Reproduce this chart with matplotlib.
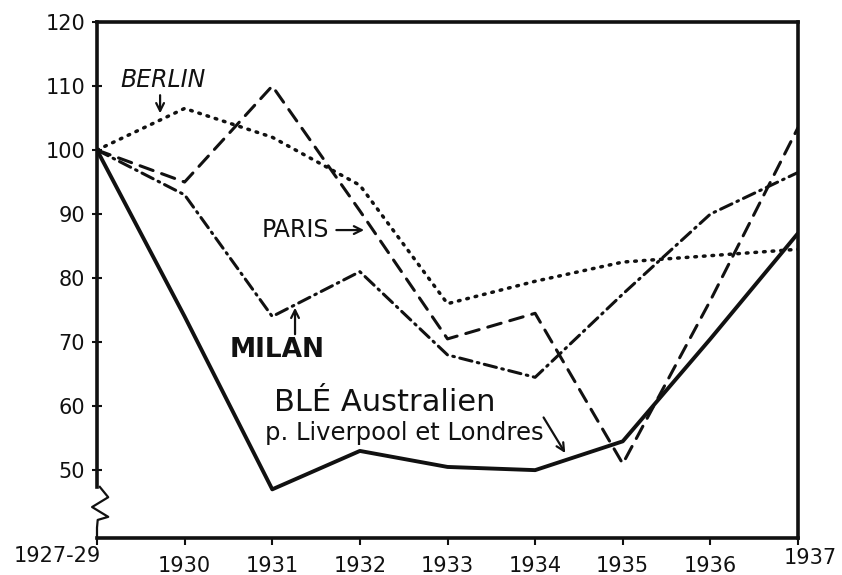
import matplotlib
matplotlib.use("Agg")
import matplotlib.pyplot as plt
from matplotlib.lines import Line2D
from matplotlib.transforms import ScaledTranslation

plt.rcParams['lines.scale_dashes'] = False
plt.rcParams['font.family'] = ['DejaVu Sans']

# ---- data (index, 1927-29 = 100) ----
years = ["1927-29", "1930", "1931", "1932", "1933", "1934", "1935", "1936", "1937"]
ble_australien = [100, 74, 47, 53, 50.5, 50, 54.5, 70.5, 87]
berlin = [100, 106.5, 102, 94.5, 76, 79.5, 82.5, 83.5, 84.5]
paris = [100, 95, 110, 90.5, 70.5, 74.5, 51, 76.5, 103.5]
milan = [100, 93, 74, 81, 68, 64.5, 77.5, 90, 96.5]
y_ticks = [50, 60, 70, 80, 90, 100, 110, 120]

ink = "#111111"
W, H = 842, 575
fig = plt.figure(figsize=(W / 100, H / 100), dpi=100)
ax = fig.add_axes([97 / W, (H - 538) / H, (798 - 97) / W, (538 - 22) / H])

x = list(range(len(years)))
ax.plot(x, ble_australien, color=ink, lw=2.8, solid_capstyle='round', solid_joinstyle='round')
ax.plot(x, berlin, color=ink, lw=2.5, linestyle=(0, (1.2, 5.0)), dash_capstyle='round')
ax.plot(x, paris, color=ink, lw=2.2, linestyle=(0, (10, 6.5)), dash_capstyle='round')
ax.plot(x, milan, color=ink, lw=2.2, linestyle=(0, (9, 4, 1.2, 4)), dash_capstyle='round')

ax.set_xlim(0, len(years) - 1)
ax.set_ylim(39.4, 120)

ax.set_xticks(x)
ax.set_xticklabels(years)
ax.set_yticks(y_ticks)
ax.set_yticklabels([str(v) for v in y_ticks])
ax.tick_params(axis='x', direction='out', length=5, width=1.5, colors=ink, labelsize=15, pad=8)
ax.tick_params(axis='y', direction='inout', length=7, width=1.5, colors=ink, labelsize=15, pad=5)

# stagger end tick labels like the hand-lettered original
lbls = ax.get_xticklabels()
lbls[0].set_horizontalalignment('right')
lbls[0].set_transform(lbls[0].get_transform() + ScaledTranslation(4 / 100, 10 / 100, fig.dpi_scale_trans))
lbls[-1].set_transform(lbls[-1].get_transform() + ScaledTranslation(12 / 100, 8 / 100, fig.dpi_scale_trans))

for s in ['top', 'right', 'bottom']:
    ax.spines[s].set_linewidth(2.6)
    ax.spines[s].set_color(ink)
ax.spines['left'].set_visible(False)

# left axis with a break (zigzag) near the bottom
tr = ax.transAxes
ax.add_line(Line2D([0, 0], [1, 0.099], transform=tr, color=ink, lw=2.6, clip_on=False))
ax.add_line(Line2D([0.004, 0.016, -0.007, 0.016, 0.001, 0, 0],
                   [0.099, 0.079, 0.060, 0.041, 0.035, 0.02, 0],
                   transform=tr, color=ink, lw=1.6, clip_on=False))

# annotations
arrow = dict(arrowstyle='->', color=ink, lw=1.6, mutation_scale=14)
ax.text(0.75, 110.9, "BERLIN", ha='center', va='center', fontsize=17, style='italic', color=ink)
ax.annotate("", xy=(0.72, 105.3), xytext=(0.72, 109.0), arrowprops=arrow)

ax.text(1.88, 87.5, "PARIS", ha='left', va='center', fontsize=17, color=ink)
ax.annotate("", xy=(3.08, 87.5), xytext=(2.7, 87.5), arrowprops=arrow)

ax.text(2.05, 68.7, "MILAN", ha='center', va='center', fontsize=19, fontweight='bold', color=ink)
ax.annotate("", xy=(2.26, 75.8), xytext=(2.26, 70.8), arrowprops=arrow)

ax.text(2.02, 60.5, "BLÉ Australien", ha='left', va='center', fontsize=22, color=ink)
ax.text(1.92, 55.8, "p. Liverpool et Londres", ha='left', va='center', fontsize=17.5, color=ink)
ax.annotate("", xy=(5.36, 52.3), xytext=(5.08, 58.6), arrowprops=arrow)

fig.savefig("out.png", dpi=100, facecolor='white')
